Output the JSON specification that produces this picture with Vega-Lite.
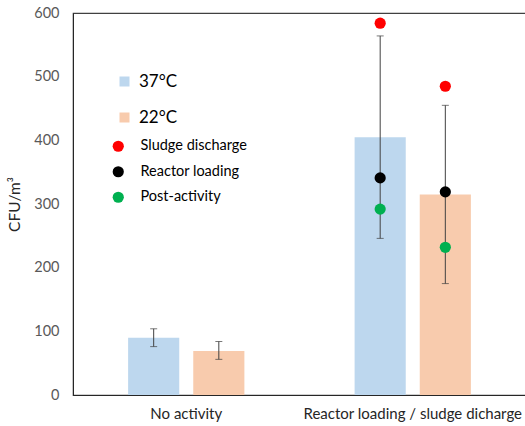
{
  "$schema": "https://vega.github.io/schema/vega-lite/v6.json",
  "width": 453,
  "height": 382,
  "autosize": "none",
  "padding": {"left": 73, "top": 13, "right": 0, "bottom": 31},
  "background": "white",
  "config": {
    "font": "Lato",
    "view": {"stroke": "#404040", "strokeWidth": 1.2},
    "axis": {"grid": false, "ticks": false, "domainColor": "#262626", "labelFont": "Lato", "titleFont": "Lato"}
  },
  "datasets": {
    "bars": [
      {"category": "No activity", "temp": "37°C", "value": 90, "lo": 76, "hi": 104},
      {"category": "No activity", "temp": "22°C", "value": 69, "lo": 56, "hi": 84},
      {"category": "Reactor loading / sludge dicharge", "temp": "37°C", "value": 405, "lo": 246, "hi": 564},
      {"category": "Reactor loading / sludge dicharge", "temp": "22°C", "value": 315, "lo": 175, "hi": 455}
    ],
    "points": [
      {"category": "Reactor loading / sludge dicharge", "temp": "37°C", "type": "Sludge discharge", "value": 584},
      {"category": "Reactor loading / sludge dicharge", "temp": "37°C", "type": "Reactor loading", "value": 341},
      {"category": "Reactor loading / sludge dicharge", "temp": "37°C", "type": "Post-activity", "value": 292},
      {"category": "Reactor loading / sludge dicharge", "temp": "22°C", "type": "Sludge discharge", "value": 485},
      {"category": "Reactor loading / sludge dicharge", "temp": "22°C", "type": "Reactor loading", "value": 319},
      {"category": "Reactor loading / sludge dicharge", "temp": "22°C", "type": "Post-activity", "value": 232}
    ]
  },
  "encoding": {
    "x": {
      "field": "category", "type": "nominal",
      "sort": ["No activity", "Reactor loading / sludge dicharge"],
      "scale": {"paddingInner": 0, "paddingOuter": 0},
      "axis": {"title": null, "labelAngle": 0, "labelFontSize": 15, "labelLimit": 0, "labelColor": "#262626", "labelPadding": 11, "domainColor": "#262626"}
    },
    "xOffset": {
      "field": "temp", "type": "nominal", "sort": ["37°C", "22°C"],
      "scale": {"paddingInner": 0.215, "paddingOuter": 0.846}
    }
  },
  "layer": [
    {
      "data": {"name": "bars"},
      "mark": {"type": "bar"},
      "encoding": {
        "y": {
          "field": "value", "type": "quantitative",
          "scale": {"domain": [0, 600]},
          "axis": {"title": "CFU/m³", "values": [0, 100, 200, 300, 400, 500, 600], "labelFontSize": 14.5, "labelColor": "#595959", "labelPadding": 14, "titleFontSize": 15.5, "titleFontWeight": "normal", "titleColor": "#262626", "titlePadding": 11}
        },
        "color": {
          "field": "temp", "type": "nominal",
          "scale": {"domain": ["37°C", "22°C"], "range": ["#BDD7EE", "#F8CBAD"]},
          "legend": {
            "title": null, "orient": "none", "legendX": 43, "legendY": 60,
            "symbolType": "square", "symbolSize": 100, "symbolStrokeWidth": 0,
            "labelFontSize": 17, "labelColor": "#000000", "labelOffset": 6,
            "rowPadding": 18
          }
        }
      }
    },
    {
      "data": {"name": "bars"},
      "mark": {"type": "rule", "color": "#404040", "strokeWidth": 1},
      "encoding": {
        "y": {"field": "lo", "type": "quantitative"},
        "y2": {"field": "hi"}
      }
    },
    {
      "data": {"name": "bars"},
      "mark": {"type": "tick", "color": "#404040", "thickness": 1, "size": 7},
      "encoding": {"y": {"field": "lo", "type": "quantitative"}}
    },
    {
      "data": {"name": "bars"},
      "mark": {"type": "tick", "color": "#404040", "thickness": 1, "size": 7},
      "encoding": {"y": {"field": "hi", "type": "quantitative"}}
    },
    {
      "data": {"name": "points"},
      "mark": {"type": "point", "shape": "circle", "filled": true, "size": 125, "opacity": 1},
      "encoding": {
        "y": {"field": "value", "type": "quantitative"},
        "fill": {
          "field": "type", "type": "nominal",
          "scale": {"domain": ["Sludge discharge", "Reactor loading", "Post-activity"], "range": ["#FF0000", "#000000", "#00B050"]},
          "legend": {
            "title": null, "orient": "none", "legendX": 38, "legendY": 126,
            "symbolType": "circle", "symbolSize": 125, "symbolStrokeWidth": 0, "symbolOpacity": 1,
            "labelFontSize": 14.5, "labelColor": "#000000", "labelOffset": 15,
            "rowPadding": 10.5
          }
        }
      }
    }
  ]
}
